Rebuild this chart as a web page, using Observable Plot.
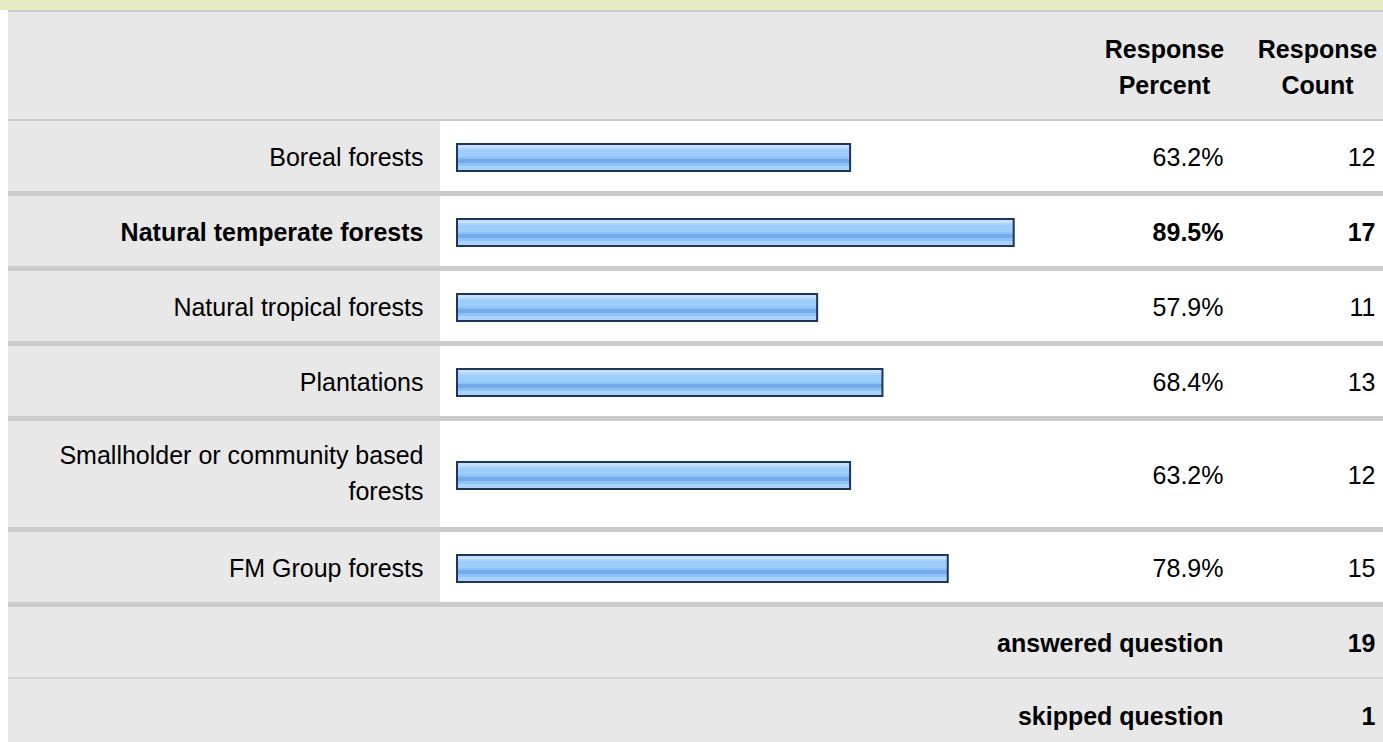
<!DOCTYPE html>
<html>
<head>
<meta charset="utf-8">
<script src="https://cdn.jsdelivr.net/npm/d3@7"></script>
<script src="https://cdn.jsdelivr.net/npm/@observablehq/plot@0.6"></script>
<style>
  html, body { margin: 0; padding: 0; background: #ffffff; }
  #chart svg { display: block; }
</style>
</head>
<body>
<svg width="0" height="0" style="position:absolute">
  <defs>
    <linearGradient id="barGrad" x1="0" y1="0" x2="0" y2="1">
      <stop offset="0" stop-color="#c4e0fe"/><stop offset="0.148" stop-color="#c4e0fe"/>
      <stop offset="0.148" stop-color="#acd5fc"/><stop offset="0.222" stop-color="#acd5fc"/>
      <stop offset="0.222" stop-color="#9dcdfb"/><stop offset="0.481" stop-color="#9dcdfb"/>
      <stop offset="0.481" stop-color="#8dc2f5"/><stop offset="0.556" stop-color="#8dc2f5"/>
      <stop offset="0.556" stop-color="#74aaea"/><stop offset="0.704" stop-color="#74aaea"/>
      <stop offset="0.704" stop-color="#8cc2f6"/><stop offset="0.815" stop-color="#8cc2f6"/>
      <stop offset="0.815" stop-color="#a8d4fc"/><stop offset="1" stop-color="#a8d4fc"/>
    </linearGradient>
  </defs>
</svg>
<div id="chart"></div>
<script>
// ---- data ----
const categories = [
  "Boreal forests",
  "Natural temperate forests",
  "Natural tropical forests",
  "Plantations",
  "Smallholder or community based forests",
  "FM Group forests"
];
const labelText = [
  "Boreal forests",
  "Natural temperate forests",
  "Natural tropical forests",
  "Plantations",
  "Smallholder or community based\nforests",
  "FM Group forests"
];
const percents = [63.2, 89.5, 57.9, 68.4, 63.2, 78.9];
const counts = [12, 17, 11, 13, 12, 15];
const highlighted = ["Natural temperate forests"];
const headers = ["Response\nPercent", "Response\nCount"];
const summaryLabels = ["answered question", "skipped question"];
const summaryValues = [19, 1];

// ---- layout ----
const W = 1383, H = 742;
const font = "Liberation Sans, Arial, Helvetica, sans-serif";
const FS = 25;
const rows = categories.map((c, i) => ({
  cat: c, label: labelText[i], pct: percents[i], count: counts[i],
  bold: highlighted.includes(c), lines: labelText[i].split("\n").length
}));
let yy = 121;
for (const r of rows) {
  r.top = yy; r.bottom = yy + 70 + 36 * (r.lines - 1);
  r.c = (r.top + r.bottom) / 2; yy = r.bottom + 5;
}
const footTop = yy;
const summary = summaryLabels.map((l, i) => ({label: l, value: summaryValues[i]}));
summary[0].top = footTop; summary[0].bottom = footTop + 70;
summary[1].top = footTop + 72; summary[1].bottom = footTop + 143;
summary.forEach(s => s.c = (s.top + s.bottom) / 2);

const xs = Plot.scale({x: {domain: [0, 100], range: [457, 1079]}});

const blocks = [
  {x1: 0, x2: W, y1: 0, y2: 10, fill: "#e6ebc2"},
  {x1: 8, x2: W, y1: 10, y2: 12, fill: "#cccccc"},
  {x1: 8, x2: W, y1: 12, y2: 119, fill: "#e8e8e8"},
  {x1: 8, x2: W, y1: 119, y2: 121, fill: "#cccccc"},
  {x1: 8, x2: W, y1: footTop, y2: H, fill: "#e8e8e8"},
  {x1: 8, x2: W, y1: footTop + 70, y2: footTop + 72, fill: "#d4d4d4"}
];

const textCommon = {fontSize: FS, fontFamily: font, lineAnchor: "middle", fill: "#000", lineHeight: 1.44};
const ty = d => d.c - (d.lines > 1 ? 4.5 : 2);

const chart = Plot.plot({
  width: W, height: H, margin: 0,
  x: {type: "identity", axis: null},
  y: {type: "identity", axis: null},
  style: {background: "transparent", fontFamily: font},
  marks: [
    Plot.rect(blocks, {x1: "x1", x2: "x2", y1: "y1", y2: "y2", fill: d => d.fill}),
    Plot.rect(rows, {x1: 8, x2: 440, y1: "top", y2: "bottom", fill: "#e8e8e8"}),
    Plot.rect(rows, {x1: 8, x2: W, y1: "bottom", y2: d => d.bottom + 5, fill: "#cccccc"}),
    Plot.rect(rows, {
      x1: () => xs.apply(0), x2: d => xs.apply(d.pct),
      y1: d => d.c - 12, y2: d => d.c + 15,
      fill: "url(#barGrad)", stroke: "#1e355c", strokeWidth: 2
    }),
    Plot.text([headers[0]], {x: 1164, y: 64, text: d => d, textAnchor: "middle", fontWeight: "bold", ...textCommon}),
    Plot.text([headers[1]], {x: 1317, y: 64, text: d => d, textAnchor: "middle", fontWeight: "bold", ...textCommon}),
    Plot.text(rows, {filter: d => !d.bold, x: 423, y: ty, text: "label", textAnchor: "end", ...textCommon}),
    Plot.text(rows, {filter: d => d.bold, x: 423, y: ty, text: "label", textAnchor: "end", fontWeight: "bold", ...textCommon}),
    Plot.text(rows, {filter: d => !d.bold, x: 1223, y: d => d.c - 2, text: d => d.pct.toFixed(1) + "%", textAnchor: "end", ...textCommon}),
    Plot.text(rows, {filter: d => d.bold, x: 1223, y: d => d.c - 2, text: d => d.pct.toFixed(1) + "%", textAnchor: "end", fontWeight: "bold", ...textCommon}),
    Plot.text(rows, {filter: d => !d.bold, x: 1375, y: d => d.c - 2, text: d => String(d.count), textAnchor: "end", ...textCommon}),
    Plot.text(rows, {filter: d => d.bold, x: 1375, y: d => d.c - 2, text: d => String(d.count), textAnchor: "end", fontWeight: "bold", ...textCommon}),
    Plot.text(summary, {x: 1223, y: d => d.c - 2, text: "label", textAnchor: "end", fontWeight: "bold", ...textCommon}),
    Plot.text(summary, {x: 1375, y: d => d.c - 2, text: d => String(d.value), textAnchor: "end", fontWeight: "bold", ...textCommon})
  ]
});
document.getElementById("chart").appendChild(chart);
</script>
</body>
</html>
